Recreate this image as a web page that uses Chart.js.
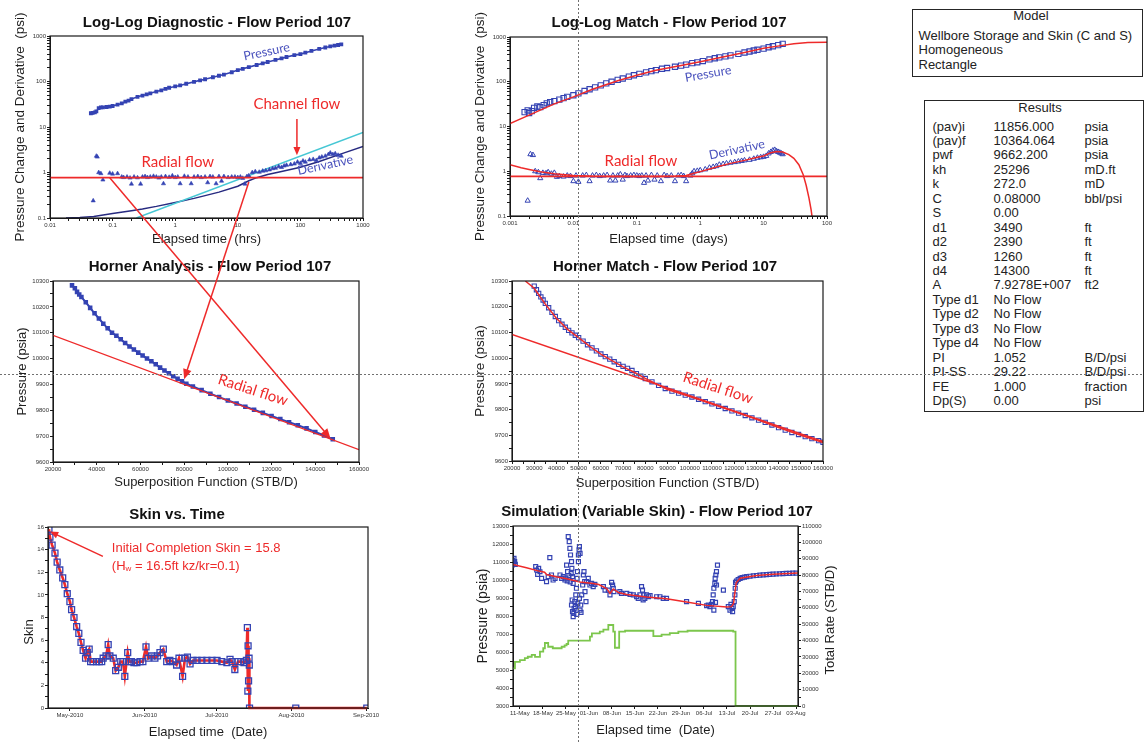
<!DOCTYPE html>
<html lang="en">
<head>
  <meta charset="UTF-8">
  <title>Flow Period 107 - Well Test Analysis</title>
  <style>
    body {
      margin: 0;
      width: 1144px;
      height: 742px;
      overflow: hidden;
      position: relative;
      background: #fff;
      font-family: Arial, "Liberation Sans", sans-serif;
      color: #222;
    }
    canvas { position: absolute; }
    #overlay { left: 0; top: 0; pointer-events: none; z-index: 5; }
    .box {
      position: absolute;
      border: 1.5px solid #262626;
      box-sizing: border-box;
      font-size: 13px;
    }
    .box div { position: absolute; white-space: nowrap; line-height: 14px; }
  </style>
</head>
<body>
  <canvas id="diag" width="400" height="250" style="left:0;top:0"></canvas>
  <canvas id="match" width="420" height="250" style="left:455px;top:0"></canvas>
  <canvas id="horner" width="400" height="245" style="left:0;top:250px"></canvas>
  <canvas id="hmatch" width="420" height="245" style="left:455px;top:250px"></canvas>
  <canvas id="skin" width="400" height="247" style="left:0;top:495px"></canvas>
  <canvas id="sim" width="420" height="247" style="left:455px;top:495px"></canvas>

  <div class="box" id="modelBox" style="left:912px;top:9px;width:231px;height:68px"></div>
  <div class="box" id="resultsBox" style="left:924px;top:100px;width:220px;height:312px"></div>

  <canvas id="overlay" width="1144" height="742"></canvas>

  <script src="https://cdn.jsdelivr.net/npm/chart.js"></script>
  <script>
    // ---------- data ----------

    // Log-log diagnostic (elapsed hrs)
    const diagPressure = [[0.045,20],[0.048,20.5],[0.052,21],[0.055,22],[0.06,26],[0.065,27],[0.07,27],[0.08,27.5],[0.09,28],[0.1,29],
      [0.12,31],[0.14,33],[0.16,36],[0.18,38],[0.2,41],[0.25,46],[0.3,49],[0.35,52],[0.4,55],[0.5,60],
      [0.6,64],[0.7,69],[0.8,73],[1,78],[1.2,82],[1.5,89],[2,98],[2.5,106],[3,112],[4,124],
      [5,134],[6,142],[8,160],[10,178],[12,190],[15,207],[20,230],[25,250],[30,268],[40,298],
      [50,322],[60,345],[80,380],[100,400],[120,430],[150,470],[200,520],[250,560],[300,590],[350,615],[400,635],[450,655]];
    const diagDerivative = [[0.049,0.24],[0.055,2.3],[0.057,2.2],[0.06,1.0],[0.065,0.95],[0.07,0.69],[0.09,0.97],[0.1,0.93],[0.12,0.95],[0.14,0.8],
      [0.15,0.78],[0.17,0.8],[0.19,0.76],[0.2,0.56],[0.22,0.8],[0.25,0.77],[0.28,0.56],[0.3,0.8],[0.33,0.82],[0.36,0.78],
      [0.4,0.8],[0.45,0.83],[0.5,0.8],[0.55,0.76],[0.6,0.8],[0.65,0.57],[0.7,0.82],[0.8,0.79],[0.9,0.85],[1,0.78],
      [1.1,0.8],[1.2,0.57],[1.4,0.83],[1.6,0.8],[1.8,0.57],[2,0.8],[2.3,0.82],[2.6,0.78],[3,0.8],[3.3,0.6],
      [3.6,0.82],[4,0.8],[4.5,0.57],[5,0.82],[5.5,0.65],[6,0.82],[7,0.78],[8,0.8],[9,0.8],[10,0.78],
      [11,0.8],[12,0.75],[13,0.56],[14,0.82],[15,0.85],[17,1.0],[19,1.05],[22,1.02],[25,1.08],[28,1.1],
      [32,1.15],[36,1.22],[40,1.25],[45,1.35],[50,1.3],[55,1.4],[60,1.45],[70,1.5],[80,1.55],[90,1.7],
      [100,1.6],[110,1.8],[120,1.7],[140,1.9],[160,1.95],[180,1.85],[200,2.1],[220,2.2],[250,2.3],[280,2.5],
      [300,2.7],[330,2.5],[360,2.6],[400,2.4],[450,2.3]];
    const diagModel = [[0.018,0.1],[0.03,0.103],[0.05,0.108],[0.1,0.125],[0.2,0.145],[0.3,0.158],[0.5,0.18],[1,0.22],[2,0.27],[3,0.31],
      [5,0.37],[10,0.5],[15,0.66],[20,0.77],[30,0.9],[50,1.05],[100,1.3],[200,1.75],[500,2.7],[1000,3.75]];
    const diagHalfSlope = [[0.24,0.1],[1000,7.6]];
    const diagRadial = [[0.01,0.77],[1000,0.77]];

    // Log-log match (elapsed days)
    const matchPressure = [[0.0017,21],[0.0019,23],[0.002,20],[0.0022,22],[0.0024,26],[0.0027,28],[0.003,27],[0.0034,30],[0.0038,33],[0.0043,35],
      [0.005,37],[0.006,40],[0.007,43],[0.008,46],[0.01,50],[0.012,55],[0.015,62],[0.018,68],[0.022,75],[0.027,83],
      [0.033,92],[0.04,100],[0.05,110],[0.06,118],[0.075,130],[0.09,140],[0.11,150],[0.14,162],[0.17,173],[0.2,182],
      [0.25,195],[0.3,203],[0.4,216],[0.5,230],[0.6,242],[0.75,260],[0.9,272],[1.1,290],[1.4,315],[1.7,335],
      [2,350],[2.5,370],[3,388],[4,420],[5,450],[6,475],[7,500],[8,520],[10,550],[12,590],[14,620],[17,660],[20,700]];
    const matchDerivative = [[0.0019,0.22],[0.0021,2.4],[0.0023,2.3],[0.0025,1.0],[0.0028,0.95],[0.003,0.7],[0.0033,0.92],[0.0037,0.9],[0.004,0.95],[0.0045,0.88],
      [0.005,0.92],[0.0055,0.75],[0.006,0.78],[0.007,0.76],[0.008,0.8],[0.009,0.78],[0.01,0.6],[0.011,0.8],[0.012,0.58],[0.014,0.8],
      [0.016,0.82],[0.018,0.6],[0.02,0.8],[0.023,0.82],[0.026,0.78],[0.03,0.8],[0.034,0.82],[0.038,0.62],[0.042,0.8],[0.046,0.62],
      [0.05,0.8],[0.055,0.85],[0.06,0.65],[0.065,0.82],[0.07,0.78],[0.08,0.8],[0.09,0.82],[0.1,0.8],[0.11,0.78],[0.12,0.8],
      [0.13,0.55],[0.14,0.8],[0.15,0.62],[0.17,0.82],[0.19,0.65],[0.21,0.8],[0.24,0.6],[0.27,0.82],[0.3,0.78],[0.35,0.8],
      [0.4,0.6],[0.45,0.8],[0.5,0.82],[0.55,0.78],[0.6,0.6],[0.7,0.8],[0.75,0.9],[0.8,1.0],[0.9,1.02],[1,1.05],
      [1.2,1.1],[1.4,1.2],[1.6,1.25],[1.8,1.3],[2,1.4],[2.3,1.45],[2.6,1.5],[3,1.55],[3.5,1.6],[4,1.65],
      [4.5,1.7],[5,1.75],[6,1.8],[7,1.9],[8,2.0],[9,2.05],[10,2.1],[11,2.2],[12,2.5],[13,2.7],
      [14,2.9],[15,3.0],[16,2.8],[17,2.7],[18,2.6],[19,2.5],[20,2.4]];
    const matchPressureModel = [[0.001,11.7],[0.002,18],[0.005,32],[0.01,46],[0.02,68],[0.05,105],[0.1,140],[0.2,180],[0.5,232],
      [1,280],[2,345],[5,450],[10,560],[20,650],[30,710],[50,750],[100,760]];
    const matchDerivativeModel = [[0.001,1.4],[0.0015,1.2],[0.002,1.1],[0.003,0.98],[0.005,0.88],[0.01,0.8],[0.02,0.77],[0.05,0.76],[0.1,0.76],[0.2,0.76],
      [0.4,0.77],[0.6,0.8],[0.8,0.9],[1,0.98],[1.5,1.15],[2,1.3],[3,1.5],[5,1.75],[8,2.05],[10,2.2],
      [13,2.6],[16,2.75],[20,2.7],[25,2.35],[30,1.95],[36,1.4],[42,0.85],[47,0.48],[52,0.25],[56,0.14],[58,0.1]];
    const matchRadial = [[0.001,0.77],[100,0.77]];

    // Horner analysis (superposition function STB/D vs psia)
    const hornerData = [[28700,10283],[30000,10272],[31000,10258],[32000,10248],[33000,10238],[35000,10218],[37000,10196],[39000,10175],[41000,10155],[43000,10135],
      [45000,10117],[47000,10100],[49000,10088],[51000,10075],[53000,10060],[55000,10047],[57000,10035],[59000,10023],[61000,10012],[63000,10000],
      [65000,9990],[67000,9978],[69000,9965],[71000,9954],[73000,9943],[75000,9932],[77000,9922],[79000,9912],[81000,9903],[84000,9892],
      [88000,9878],[92000,9864],[96000,9851],[100000,9838],[104000,9826],[108000,9814],[112000,9802],[116000,9790],[120000,9778],[124000,9766],
      [128000,9754],[132000,9742],[136000,9730],[140000,9716],[144000,9703],[148000,9688]];
    const hornerRadial = [[20000,10090],[160000,9648]];

    // Horner match
    const hmatchData = [[30000,10280],[31000,10266],[32000,10252],[33000,10238],[34000,10226],[35000,10213],[36500,10196],[38000,10178],[39500,10162],[41000,10146],
      [42500,10132],[44000,10120],[45500,10108],[47000,10098],[48500,10089],[50000,10080],[52000,10066],[54000,10052],[56000,10040],[58000,10028],
      [60000,10016],[62000,10006],[64000,9996],[66000,9986],[68000,9976],[70000,9968],[72000,9960],[74000,9952],[76000,9940],[78000,9930],
      [80000,9921],[83000,9908],[86000,9894],[89000,9882],[92000,9872],[95000,9864],[98000,9856],[101000,9849],[104000,9840],[107000,9831],
      [110000,9822],[113000,9813],[116000,9804],[119000,9795],[122000,9786],[125000,9777],[128000,9768],[131000,9759],[134000,9750],[137000,9740],
      [140000,9730],[143000,9720],[146000,9711],[149000,9703],[152000,9695],[155000,9687],[158000,9679],[160000,9673]];
    const hmatchModel = [[26000,10300],[30000,10272],[35000,10210],[40000,10155],[45000,10112],[50000,10080],[55000,10046],[60000,10016],[65000,9990],[70000,9966],
      [75000,9945],[80000,9921],[90000,9878],[100000,9851],[110000,9822],[120000,9792],[130000,9762],[140000,9730],[150000,9700],[160000,9672]];
    const hmatchRadial = [[20000,10092],[160000,9676]];

    // Skin history, days counted from 1-May-2010
    const skinHistory = [[-8.7,15.8],[-8.3,15.1],[-7.4,14.4],[-6.2,13.7],[-5.3,12.9],[-4.2,12.2],[-3.0,11.5],[-2.1,10.9],[-1.1,10.1],[0,9.4],
      [0.7,8.7],[1.7,8.0],[2.8,7.2],[3.7,6.6],[4.6,5.8],[5.5,5.1],[6.5,4.4],[7.2,4.9],[8.0,5.2],[8.6,4.1],
      [9.6,4.1],[11.1,4.1],[12.2,4.1],[13.2,4.1],[13.8,4.4],[15.0,4.6],[15.9,5.6],[16.6,4.6],[18.0,4.4],[19.0,3.3],
      [20.1,3.6],[21.1,4.1],[22.0,4.1],[22.8,2.8],[24.0,4.9],[24.7,4.1],[25.6,4.1],[26.6,4.0],[27.8,4.0],[29.1,4.1],
      [30.3,4.1],[31.6,5.4],[32.5,4.4],[33.9,4.6],[35.3,4.4],[36.4,4.6],[37.4,4.9],[38.8,5.2],[40.2,4.1],[41.5,4.2],
      [42.8,4.1],[44.3,3.8],[45.3,4.4],[46.8,2.8],[47.8,4.4],[48.8,4.5],[49.9,3.9],[51.1,4.2],[52.8,4.2],[54.8,4.2],
      [56.9,4.2],[59.0,4.2],[61.1,4.2],[63.1,4.1],[65.2,4.0],[66.5,4.3],[67.3,4.1],[68.5,3.4],[69.8,4.1],[71.0,4.1],
      [72.3,4.0],[73.3,4.2],[73.7,7.1],[73.9,1.5],[74.0,5.5],[74.2,2.4],[74.4,4.4],[74.5,3.8],[74.6,0],[93.8,0],[123.3,0]];
    const skinMonthDays = [0, 31, 61, 92, 123];
    const skinMonthLabels = ['May-2010', 'Jun-2010', 'Jul-2010', 'Aug-2010', 'Sep-2010'];

    // Variable-skin simulation, days counted from 1-May-2010
    const simPressure = [[7.6,10830],[7.8,11110],[8.0,10925],[8.2,11200],[8.4,11020],[8.6,10870],
      [14.8,10740],[15.1,10555],[15.4,10315],[15.7,10650],[16.1,10460],[16.6,10090],
      [18.1,9910],[18.6,10185],[19.1,11240],[19.6,10280],[20.1,10000],[20.7,10090],
      [22.2,10280],[22.7,10090],[23.2,10185],[23.7,10000],
      [24.0,10100],[24.2,10830],[24.4,9950],[24.5,10465],[24.7,12410],[24.9,10250],[25.0,12130],[25.2,11760],[25.3,9900],[25.4,11390],
      [25.6,10350],[25.7,11020],[25.8,10650],[26.0,10185],[26.2,9815],[25.7,8610],[25.9,8890],[26.0,8240],[26.2,7960],[26.4,8150],
      [26.5,8425],[26.7,8800],[26.9,8520],[27.0,9170],[27.2,9540],[27.3,8090],[27.4,10090],[27.5,10465],[27.6,8700],[27.8,11020],
      [27.8,11390],[28.0,11670],[28.1,11850],[28.1,8980],[28.3,11480],[28.3,8330],[28.5,8610],[28.6,8200],[28.8,9170],[29.1,9720],
      [29.3,10280],[29.5,10465],[29.7,9910],[29.8,9350],[30.1,8800],
      [30.3,9910],[30.8,10090],[31.3,9720],[31.8,9815],[32.3,9630],[32.8,9760],
      [35.4,9630],[35.9,9440],[36.9,9440],[37.4,9170],[37.9,9870],[38.2,9720],[38.4,9540],[38.6,9350],
      [40.4,9350],[40.9,9260],[42.5,9260],[43.5,9200],[44.5,9170],[45.5,9070],[46.0,8980],[46.5,9170],[47.0,9630],[47.3,9440],
      [47.5,8890],[47.7,9170],[48.0,8980],[48.5,9170],[49.1,9070],[49.6,9130],
      [51.6,9070],[52.6,9070],[53.6,8980],[54.6,8980],[60.7,8800],[64.3,8700],
      [66.8,8570],[67.3,8610],[67.8,8520],[68.3,8650],[68.6,8800],[68.8,9170],[69.0,9540],[69.3,9815],[69.4,10090],[69.6,10280],
      [69.8,10465],[70.1,10830],[69.0,8330],[69.5,8760],[69.8,9720],[71.9,9440],
      [73.4,8520],[73.9,8330],[74.2,8650],[74.5,8420],[74.7,8240],[74.9,8520],
      [75.2,8800],[75.4,9170],[75.5,9540],[75.6,9870],[75.9,9945],[76.4,10030],[77.0,10090],[77.6,10130],[78.3,10160],[79.0,10185],
      [80.0,10210],[81.0,10235],[82.0,10250],[83.0,10270],[84.0,10285],[85.0,10300],[86.0,10315],[87.0,10325],[88.0,10335],[89.0,10345],
      [90.0,10355],[91.0,10365],[92.0,10370],[93.0,10380],[94.0,10385]];
    const simModel = [[7.8,10870],[12,10680],[16.1,10480],[17.5,10430],[18.2,10290],[19.1,10260],[21,10180],[24.2,10070],[28.3,9890],[32.3,9800],
      [34,9750],[36.4,9530],[37.4,9250],[38.4,9500],[40,9300],[42.5,9190],[48.5,9060],[54.6,8960],[60.7,8780],[66.8,8590],
      [72.9,8500],[74.4,8520],[75,8700],[75.4,9300],[75.8,9850],[77,10100],[82,10250],[87,10325],[94.6,10390]];
    const simRate = [[7.9,23000],[8.5,27000],[10,28000],[11.5,29300],[12.4,30100],[13.6,31200],[14.6,30000],[16.1,33200],[17.1,35300],[17.6,38500],
      [18.6,36200],[20.0,35300],[22.7,36200],[23.6,37000],[24.2,37900],[24.7,39900],[31.3,42400],[31.9,44400],[34.3,45400],[35.4,46700],
      [36.9,49500],[38.4,45400],[38.9,35600],[40.2,45400],[42,46000],[50.6,42700],[53.1,43600],[55.6,44500],[58.2,45500],[61,46000],
      [74.9,45500],[75.6,0],[94.6,0]];
    const simWeekDays = [10, 17, 24, 31, 38, 45, 52, 59, 66, 73, 80, 87, 94];
    const simWeekLabels = ['11-May', '18-May', '25-May', '01-Jun', '08-Jun', '15-Jun', '22-Jun', '29-Jun', '06-Jul', '13-Jul', '20-Jul', '27-Jul', '03-Aug'];

    // Model and results tables
    const modelLines = ['Wellbore Storage and Skin (C and S)', 'Homogeneous', 'Rectangle'];
    const resultNames = ['(pav)i', '(pav)f', 'pwf', 'kh', 'k', 'C', 'S', 'd1', 'd2', 'd3', 'd4', 'A',
      'Type d1', 'Type d2', 'Type d3', 'Type d4', 'PI', 'PI-SS', 'FE', 'Dp(S)'];
    const resultValues = ['11856.000', '10364.064', '9662.200', '25296', '272.0', '0.08000', '0.00', '3490', '2390', '1260', '14300', '7.9278E+007',
      'No Flow', 'No Flow', 'No Flow', 'No Flow', '1.052', '29.22', '1.000', '0.00'];
    const resultUnits = ['psia', 'psia', 'psia', 'mD.ft', 'mD', 'bbl/psi', '', 'ft', 'ft', 'ft', 'ft', 'ft2',
      '', '', '', '', 'B/D/psi', 'B/D/psi', 'fraction', 'psi'];

    // ---------- look ----------
    const FONT = 'Arial, "Liberation Sans", sans-serif';
    const NOTE_FONT = 'Lato, "Open Sans", sans-serif';
    const RED = '#ee2a2a';
    const BLUE = '#3443b3';
    const NAVY = '#272a80';
    const CYAN = '#46c7d4';
    const GREEN = '#7cc64c';
    const NOTE_BLUE = '#4a52bd';

    const xy = pairs => pairs.map(p => ({ x: p[0], y: p[1] }));

    function logTicks(lo, hi) {
      const out = [];
      for (let e = lo; e < hi; e++) {
        for (let m = 1; m <= 9; m++) out.push(+(m * Math.pow(10, e)).toPrecision(6));
      }
      out.push(Math.pow(10, hi));
      return out;
    }
    function stepTicks(min, max, step) {
      const out = [];
      for (let v = min; v <= max + 1e-9; v += step) out.push(v);
      return out;
    }
    const decadeLabel = v => {
      const e = Math.log10(v);
      return Math.abs(e - Math.round(e)) < 1e-6 ? String(+v.toPrecision(6)) : '';
    };
    const everyLabel = step => v => (Math.round(v) % step === 0 ? String(Math.round(v)) : '');

    function axis(o) {
      return {
        type: o.type || 'linear',
        position: o.position,
        min: o.min,
        max: o.max,
        border: { display: true, color: '#1a1a1a', width: 1 },
        grid: { drawOnChartArea: false, drawTicks: true, tickLength: 3, color: '#1a1a1a', lineWidth: 1 },
        ticks: {
          autoSkip: false, maxRotation: 0, minRotation: 0, padding: 1,
          color: '#333', font: { family: FONT, size: 6 },
          callback: o.label
        },
        title: {
          display: !!o.title, text: o.title || '', color: '#1e1e1e',
          font: { family: FONT, size: o.titleSize || 13 },
          padding: o.titlePad || 0
        },
        afterBuildTicks: sc => { sc.ticks = o.ticks.map(v => ({ value: v })); },
        afterFit: sc => { if (sc.isHorizontal()) sc.height = o.size; else sc.width = o.size; }
      };
    }

    const lineSet = (pairs, color, width, extra) => Object.assign({
      data: xy(pairs), showLine: true, borderColor: color, borderWidth: width, pointRadius: 0, fill: false
    }, extra || {});
    const markSet = (pairs, style, radius, color, filled, width) => ({
      data: xy(pairs), showLine: false, pointStyle: style, pointRadius: radius,
      borderColor: color, borderWidth: width, backgroundColor: filled ? color : 'rgba(0,0,0,0)'
    });

    function drawArrow(ctx, x1, y1, x2, y2, color, width, head) {
      const ang = Math.atan2(y2 - y1, x2 - x1);
      ctx.strokeStyle = color;
      ctx.fillStyle = color;
      ctx.lineWidth = width;
      ctx.beginPath();
      ctx.moveTo(x1, y1);
      ctx.lineTo(x2 - Math.cos(ang) * head * 0.8, y2 - Math.sin(ang) * head * 0.8);
      ctx.stroke();
      ctx.beginPath();
      ctx.moveTo(x2, y2);
      ctx.lineTo(x2 - head * Math.cos(ang - 0.4), y2 - head * Math.sin(ang - 0.4));
      ctx.lineTo(x2 - head * Math.cos(ang + 0.4), y2 - head * Math.sin(ang + 0.4));
      ctx.closePath();
      ctx.fill();
    }

    // headings, loose captions and notes for each panel (notes are in data units)
    const panels = {
      diag: {
        heading: 'Log-Log Diagnostic - Flow Period 107', hx: 217, hy: 23,
        notes: [
          { at: [29, 450], text: 'Pressure', color: NOTE_BLUE, font: '12.5px ' + NOTE_FONT, angle: -12 },
          { at: [88, 31.6], text: 'Channel flow', color: RED, font: '15px ' + NOTE_FONT },
          { arrow: [88, 15, 88, 2.4] },
          { at: [1.1, 1.7], text: 'Radial flow', color: RED, font: '15px ' + NOTE_FONT },
          { at: [250, 1.45], text: 'Derivative', color: NOTE_BLUE, font: '12.5px ' + NOTE_FONT, angle: -12 }
        ]
      },
      match: {
        heading: 'Log-Log Match - Flow Period 107', hx: 214, hy: 23,
        notes: [
          { at: [1.33, 150], text: 'Pressure', color: NOTE_BLUE, font: '12.5px ' + NOTE_FONT, angle: -10 },
          { at: [0.116, 1.7], text: 'Radial flow', color: RED, font: '15px ' + NOTE_FONT },
          { at: [3.8, 3.04], text: 'Derivative', color: NOTE_BLUE, font: '12.5px ' + NOTE_FONT, angle: -12 }
        ]
      },
      horner: {
        heading: 'Horner Analysis - Flow Period 107', hx: 210, hy: 17,
        notes: [
          { at: [111500, 9878], text: 'Radial flow', color: RED, font: '15px ' + NOTE_FONT, angle: 18 }
        ]
      },
      hmatch: {
        heading: 'Horner Match - Flow Period 107', hx: 210, hy: 17,
        notes: [
          { at: [112700, 9884], text: 'Radial flow', color: RED, font: '15px ' + NOTE_FONT, angle: 18 }
        ]
      },
      skin: {
        heading: 'Skin vs. Time', hx: 177, hy: 20,
        captions: [{ text: 'Skin', x: 29, y: 137 }],
        notes: [
          { arrow: [13.7, 13.4, -8.3, 15.6] },
          { at: [17.4, 14.15], parts: [{ t: 'Initial Completion Skin = 15.8' }], color: RED, font: '13px ' + FONT },
          { at: [17.4, 12.55], parts: [{ t: '(H' }, { t: 'w', sub: true }, { t: ' = 16.5ft kz/kr=0.1)' }], color: RED, font: '13px ' + FONT }
        ]
      },
      sim: {
        heading: 'Simulation (Variable Skin) - Flow Period 107', hx: 202, hy: 17,
        captions: [{ text: 'Total Rate (STB/D)', x: 375, y: 125 }]
      }
    };

    const panelPlugin = {
      id: 'panelDecor',
      afterDraw(chart) {
        const cfg = panels[chart.canvas.id];
        const ctx = chart.ctx;
        const a = chart.chartArea;
        const sx = chart.scales.x;
        const sy = chart.scales.y;
        ctx.save();
        // plot frame
        ctx.strokeStyle = '#1a1a1a';
        ctx.lineWidth = 1.2;
        ctx.strokeRect(a.left, a.top, a.right - a.left, a.bottom - a.top);
        // heading
        ctx.fillStyle = '#111';
        ctx.font = 'bold 15px ' + FONT;
        ctx.textAlign = 'center';
        ctx.textBaseline = 'middle';
        ctx.fillText(cfg.heading, cfg.hx, cfg.hy);
        // vertical captions not handled by the scale titles
        (cfg.captions || []).forEach(c => {
          ctx.save();
          ctx.translate(c.x, c.y);
          ctx.rotate(-Math.PI / 2);
          ctx.font = '13px ' + FONT;
          ctx.fillStyle = '#1e1e1e';
          ctx.fillText(c.text, 0, 0);
          ctx.restore();
        });
        (cfg.notes || []).forEach(n => {
          if (n.arrow) {
            drawArrow(ctx, sx.getPixelForValue(n.arrow[0]), sy.getPixelForValue(n.arrow[1]),
              sx.getPixelForValue(n.arrow[2]), sy.getPixelForValue(n.arrow[3]), RED, 1.5, 9);
            return;
          }
          ctx.save();
          ctx.translate(sx.getPixelForValue(n.at[0]), sy.getPixelForValue(n.at[1]));
          ctx.rotate((n.angle || 0) * Math.PI / 180);
          ctx.fillStyle = n.color;
          ctx.textBaseline = 'middle';
          if (n.parts) {
            ctx.textAlign = 'left';
            let x = 0;
            n.parts.forEach(p => {
              ctx.font = p.sub ? '8px ' + FONT : n.font;
              ctx.fillText(p.t, x, p.sub ? 3 : 0);
              x += ctx.measureText(p.t).width;
            });
          } else {
            ctx.font = n.font;
            ctx.textAlign = 'center';
            ctx.fillText(n.text, 0, 0);
          }
          ctx.restore();
        });
        ctx.restore();
      }
    };

    function makePanel(id, padTop, padRight, datasets, scales) {
      return new Chart(document.getElementById(id), {
        type: 'scatter',
        data: { datasets },
        options: {
          responsive: false,
          animation: false,
          devicePixelRatio: 1,
          events: [],
          layout: { padding: { top: padTop, right: padRight, left: 0, bottom: 0 } },
          plugins: { legend: { display: false }, tooltip: { enabled: false } },
          scales
        },
        plugins: [panelPlugin]
      });
    }

    // ---------- panels ----------
    const diagChart = makePanel('diag', 36, 37, [
      lineSet(diagRadial, RED, 1.6),
      markSet(diagDerivative, 'triangle', 2.4, BLUE, true, 0.6),
      lineSet(diagPressure, BLUE, 1.6, { pointStyle: 'rect', pointRadius: 1.6, pointBackgroundColor: BLUE, pointBorderColor: BLUE }),
      lineSet(diagHalfSlope, CYAN, 1.5),
      lineSet(diagModel, NAVY, 1.5)
    ], {
      x: axis({ type: 'logarithmic', position: 'bottom', min: 0.01, max: 1000, ticks: logTicks(-2, 3), label: decadeLabel,
        size: 32, title: 'Elapsed time  (hrs)', titlePad: { top: 0, bottom: 3 } }),
      y: axis({ type: 'logarithmic', position: 'left', min: 0.1, max: 1000, ticks: logTicks(-1, 3), label: decadeLabel,
        size: 50, title: 'Pressure Change and Derivative  (psi)', titleSize: 13.5, titlePad: { top: 12, bottom: 0 } })
    });

    makePanel('match', 37, 48, [
      lineSet(matchRadial, RED, 1.6),
      lineSet(matchPressureModel, RED, 1.5),
      lineSet(matchDerivativeModel, RED, 1.5),
      markSet(matchPressure, 'rect', 3.7, BLUE, false, 1.1),
      markSet(matchDerivative, 'triangle', 3, BLUE, false, 1)
    ], {
      x: axis({ type: 'logarithmic', position: 'bottom', min: 0.001, max: 100, ticks: logTicks(-3, 2), label: decadeLabel,
        size: 34, title: 'Elapsed time  (days)', titlePad: { top: 0, bottom: 3 } }),
      y: axis({ type: 'logarithmic', position: 'left', min: 0.1, max: 1000, ticks: logTicks(-1, 3), label: decadeLabel,
        size: 55, title: 'Pressure Change and Derivative  (psi)', titleSize: 13.5, titlePad: { top: 17, bottom: 0 } })
    });

    const hornerChart = makePanel('horner', 31, 41, [
      lineSet(hornerRadial, RED, 1.3),
      lineSet(hornerData, BLUE, 2, { pointStyle: 'rect', pointRadius: 1.8, pointBackgroundColor: BLUE, pointBorderColor: BLUE })
    ], {
      x: axis({ position: 'bottom', min: 20000, max: 160000, ticks: stepTicks(20000, 160000, 10000), label: everyLabel(20000),
        size: 33, title: 'Superposition Function (STB/D)', titlePad: { top: 0, bottom: 5 } }),
      y: axis({ position: 'left', min: 9600, max: 10300, ticks: stepTicks(9600, 10300, 50), label: everyLabel(100),
        size: 53, title: 'Pressure (psia)', titlePad: { top: 15, bottom: 0 } })
    });

    makePanel('hmatch', 31, 52, [
      lineSet(hmatchRadial, RED, 1.5),
      lineSet(hmatchModel, RED, 1.5),
      markSet(hmatchData, 'rect', 3, BLUE, false, 1.1)
    ], {
      x: axis({ position: 'bottom', min: 20000, max: 160000, ticks: stepTicks(20000, 160000, 5000), label: everyLabel(10000),
        size: 34, title: 'Superposition Function (STB/D)', titlePad: { top: 0, bottom: 4 } }),
      y: axis({ position: 'left', min: 9600, max: 10300, ticks: stepTicks(9600, 10300, 50), label: everyLabel(100),
        size: 57, title: 'Pressure (psia)', titleSize: 13.5, titlePad: { top: 17, bottom: 0 } })
    });

    makePanel('skin', 32, 32, [
      markSet(skinHistory, 'rect', 4.2, BLUE, false, 1.3),
      lineSet(skinHistory, RED, 2.6, { clip: 4 })
    ], {
      x: axis({ position: 'bottom', min: -9.1, max: 123.8, ticks: skinMonthDays, label: (v, i) => skinMonthLabels[i],
        size: 34, title: 'Elapsed time  (Date)', titlePad: { top: 0, bottom: 2 } }),
      y: axis({ position: 'left', min: 0, max: 16, ticks: stepTicks(0, 16, 1), label: everyLabel(2), size: 48 })
    });

    makePanel('sim', 31, 17, [
      lineSet(simModel, RED, 1.5),
      markSet(simPressure, 'rect', 2.8, BLUE, false, 1.2),
      lineSet(simRate, GREEN, 1.8, { yAxisID: 'y2', stepped: 'before', clip: 4 })
    ], {
      x: axis({ position: 'bottom', min: 7.9, max: 94.6, ticks: simWeekDays, label: (v, i) => simWeekLabels[i],
        size: 36, title: 'Elapsed time  (Date)', titlePad: { top: 0, bottom: 4 } }),
      y: axis({ position: 'left', min: 3000, max: 13000, ticks: stepTicks(3000, 13000, 500), label: everyLabel(1000),
        size: 58, title: 'Pressure (psia)', titleSize: 14, titlePad: { top: 19.6, bottom: 0 } }),
      y2: axis({ position: 'right', min: 0, max: 110000, ticks: stepTicks(0, 110000, 5000), label: everyLabel(10000), size: 60 })
    });

    // ---------- model / results boxes ----------
    const modelBox = document.getElementById('modelBox');
    modelBox.innerHTML = '<div style="left:0;width:236px;text-align:center;top:-1.5px">Model</div>' +
      modelLines.map((t, i) => `<div style="left:5.5px;top:${18.5 + i * 14.65}px">${t}</div>`).join('');

    const resultsBox = document.getElementById('resultsBox');
    let rows = '<div style="left:0;width:230px;text-align:center;top:-0.5px">Results</div>';
    resultNames.forEach((name, i) => {
      const top = 18.5 + i * 14.45;
      rows += `<div style="left:7.5px;top:${top}px">${name}</div>` +
        `<div style="left:68.5px;top:${top}px">${resultValues[i]}</div>` +
        `<div style="left:159.5px;top:${top}px">${resultUnits[i]}</div>`;
    });
    resultsBox.innerHTML = rows;

    // ---------- page overlay: cursor cross-hair and the flow-regime arrows ----------
    const ov = document.getElementById('overlay').getContext('2d');
    ov.strokeStyle = '#707070';
    ov.lineWidth = 1;
    ov.setLineDash([2, 2]);
    ov.beginPath();
    ov.moveTo(578.5, 0); ov.lineTo(578.5, 742);
    ov.moveTo(0, 374.5); ov.lineTo(1144, 374.5);
    ov.stroke();
    ov.setLineDash([]);

    function pagePoint(chart, p) {
      const c = chart.canvas;
      return [c.offsetLeft + chart.scales.x.getPixelForValue(p[0]), c.offsetTop + chart.scales.y.getPixelForValue(p[1])];
    }
    const flowArrows = [
      { from: [0.09, 0.77], to: [147000, 9690] },
      { from: [15, 0.62], to: [80000, 9920] }
    ];
    flowArrows.forEach(f => {
      const p = pagePoint(diagChart, f.from);
      const q = pagePoint(hornerChart, f.to);
      drawArrow(ov, p[0], p[1], q[0], q[1], RED, 1.5, 11);
    });
  </script>
</body>
</html>
